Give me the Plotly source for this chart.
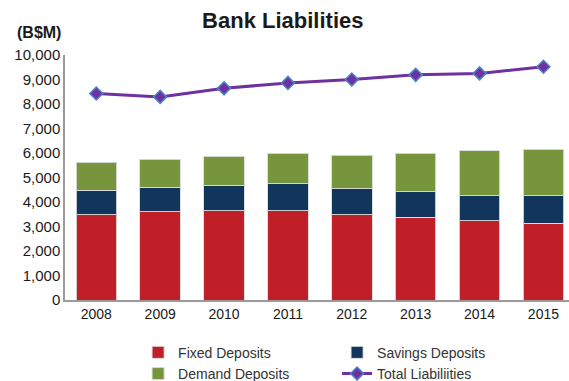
import plotly.graph_objects as go

years = ["2008", "2009", "2010", "2011", "2012", "2013", "2014", "2015"]
fixed_deposits = [3480, 3600, 3650, 3650, 3480, 3370, 3240, 3140]
savings_deposits = [1010, 1000, 1015, 1085, 1063, 1050, 1017, 1117]
demand_deposits = [1130, 1143, 1200, 1253, 1375, 1568, 1838, 1893]
total_liabilities = [8430, 8290, 8640, 8860, 9000, 9190, 9250, 9520]
y_ticks = [0, 1000, 2000, 3000, 4000, 5000, 6000, 7000, 8000, 9000, 10000]

FONT = "Liberation Sans, Arial, sans-serif"
bar_edge = dict(color="rgba(220,220,220,0.9)", width=1)

fig = go.Figure()
fig.add_trace(go.Bar(x=years, y=fixed_deposits, name="Fixed Deposits",
                     marker=dict(color="#C01F28", line=bar_edge)))
fig.add_trace(go.Bar(x=years, y=savings_deposits, name="Savings Deposits",
                     marker=dict(color="#12355C", line=bar_edge)))
fig.add_trace(go.Bar(x=years, y=demand_deposits, name="Demand Deposits",
                     marker=dict(color="#77953D", line=bar_edge)))
fig.add_trace(go.Scatter(x=years, y=total_liabilities, name="Total Liabiliities",
                         mode="lines+markers",
                         line=dict(color="#7030A0", width=3),
                         marker=dict(symbol="diamond", size=10, color="#7030A0",
                                     line=dict(color="#4A86C8", width=1.5))))

fig.update_layout(
    width=569, height=381,
    barmode="stack", bargap=0.365,
    plot_bgcolor="white", paper_bgcolor="white",
    font=dict(family=FONT, size=14, color="#1a1a1a"),
    margin=dict(l=65, r=0, t=55, b=81, autoexpand=False),
    title=dict(text="<b>Bank Liabilities</b>", x=0.497, xref="container", xanchor="center",
               y=0.947, yanchor="middle", font=dict(size=22, color="#1a1a1a")),
    showlegend=True,
    legend=dict(orientation="h", x=0.145, y=-0.15, xanchor="left", yanchor="top",
                entrywidth=154, traceorder="normal",
                font=dict(size=14, color="#333333")),
    annotations=[dict(text="<b>(B$M)</b>", xref="paper", yref="paper",
                      x=-0.052, y=1.05, xanchor="center", yanchor="bottom",
                      showarrow=False, font=dict(size=16, color="#1a1a1a"))],
)
fig.update_xaxes(range=[-0.49, 7.40], showline=True, linecolor="#9a9a9a", linewidth=2,
                 ticks="", showgrid=False, tickfont=dict(size=14))
fig.update_yaxes(range=[0, 10000], tickvals=y_ticks, tickformat=",",
                 showline=True, linecolor="#9a9a9a", linewidth=1.5,
                 ticks="", showgrid=False, zeroline=False, tickfont=dict(size=15))

fig.write_html("out.html")
